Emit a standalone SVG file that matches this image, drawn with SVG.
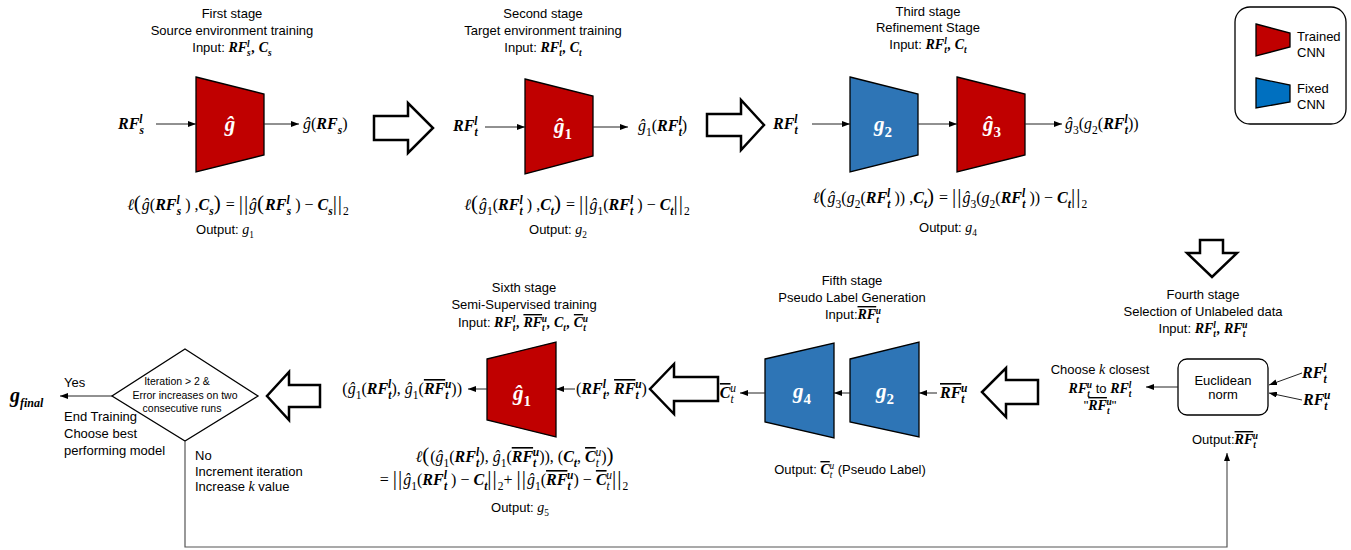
<svg xmlns="http://www.w3.org/2000/svg" width="1351" height="550" viewBox="0 0 1351 550">
<defs>
<style>
.t{font-family:"Liberation Sans",Arial,sans-serif;font-size:13px;fill:#000}
.sm{font-size:10.5px}
.mt{font-family:"Liberation Serif","DejaVu Serif",serif;font-size:16px;fill:#000}
.i{font-family:"Liberation Serif","DejaVu Serif",serif;font-style:italic}
.b{font-family:"Liberation Serif","DejaVu Serif",serif;font-style:italic;font-weight:bold}
.t .b,.t .i{font-size:14px}
.s{font-family:"Liberation Serif","DejaVu Serif",serif;font-style:italic;font-size:0.72em}
.sb{font-family:"Liberation Serif","DejaVu Serif",serif;font-style:italic;font-weight:bold;font-size:0.72em}
.su{font-family:"Liberation Serif","DejaVu Serif",serif;font-style:normal;font-size:0.72em}
.up{baseline-shift:0.5em}
.dn{baseline-shift:-0.4em}
.ov{text-decoration:overline}
.bar{font-size:21px;letter-spacing:1px}
.cn{font-family:"Liberation Serif","DejaVu Serif",serif;font-style:italic;font-weight:bold;font-size:21px;fill:#fff}
.red{fill:#C00000;stroke:#000;stroke-width:1.3}
.blue{fill:#2E75B6;stroke:#000;stroke-width:1.3}
.ln{stroke:#222;stroke-width:1;fill:none}
.lp{stroke:#555;stroke-width:1.2;fill:none}
.blk{fill:#fff;stroke:#000;stroke-width:2.5;stroke-linejoin:miter}
</style>
<marker id="ah" viewBox="0 0 8 6" refX="8" refY="3" markerWidth="8" markerHeight="6" markerUnits="userSpaceOnUse" orient="auto"><path d="M0,0 L8,3 L0,6 z" fill="#000"/></marker>
</defs>
<rect width="1351" height="550" fill="#fff"/>

<g id="stage1">
<text class="t" x="232" y="18" text-anchor="middle">First stage</text>
<text class="t" x="232" y="35" text-anchor="middle">Source environment training</text>
<text class="t" x="232" y="52" text-anchor="middle">Input: <tspan class="b">RF</tspan><tspan class="sb up">l</tspan><tspan class="sb dn" dx="-2.6">s</tspan><tspan class="b" dx="1">, C</tspan><tspan class="sb dn">s</tspan></text>
<path class="red" d="M196,77 L264,94 L264,155 L196,172 Z"/>
<text class="cn" x="230" y="131" text-anchor="middle">ĝ</text>
<text class="mt" x="118" y="129"><tspan class="b">RF</tspan><tspan class="sb up">l</tspan><tspan class="sb dn" dx="-3">s</tspan></text>
<text class="mt" x="303" y="129"><tspan class="i">ĝ</tspan>(<tspan class="b">RF</tspan><tspan class="sb dn">s</tspan>)</text>
<text class="mt" x="238" y="210" text-anchor="middle"><tspan class="i">ℓ</tspan><tspan class="bar">(</tspan><tspan class="i">ĝ</tspan>(<tspan class="b">RF</tspan><tspan class="sb up">l</tspan><tspan class="sb dn" dx="-3">s</tspan> ) ,<tspan class="b">C</tspan><tspan class="sb dn">s</tspan><tspan class="bar">)</tspan> = <tspan class="bar">||</tspan><tspan class="i">ĝ</tspan><tspan class="bar">(</tspan><tspan class="b">RF</tspan><tspan class="sb up">l</tspan><tspan class="sb dn" dx="-3">s</tspan> ) − <tspan class="b">C</tspan><tspan class="sb dn">s</tspan><tspan class="bar">||</tspan><tspan class="su dn">2</tspan></text>
<text class="t" x="225" y="234" text-anchor="middle">Output: <tspan class="i">g</tspan><tspan class="su dn">1</tspan></text>
</g>

<g id="stage2">
<text class="t" x="543" y="18" text-anchor="middle">Second stage</text>
<text class="t" x="543" y="35" text-anchor="middle">Target environment training</text>
<text class="t" x="543" y="52" text-anchor="middle">Input: <tspan class="b">RF</tspan><tspan class="sb up">l</tspan><tspan class="sb dn" dx="-2.6">t</tspan><tspan class="b" dx="1">, C</tspan><tspan class="sb dn">t</tspan></text>
<path class="red" d="M525,79 L593,96 L593,156 L525,174 Z"/>
<text class="cn" x="563" y="133" text-anchor="middle">ĝ<tspan font-size="15" font-style="normal" class="dn">1</tspan></text>
<text class="mt" x="453" y="131"><tspan class="b">RF</tspan><tspan class="sb up">l</tspan><tspan class="sb dn" dx="-3">t</tspan></text>
<text class="mt" x="638" y="131"><tspan class="i">ĝ</tspan><tspan class="su dn">1</tspan>(<tspan class="b">RF</tspan><tspan class="sb up">l</tspan><tspan class="sb dn" dx="-3">t</tspan>)</text>
<text class="mt" x="577" y="210" text-anchor="middle"><tspan class="i">ℓ</tspan><tspan class="bar">(</tspan><tspan class="i">ĝ</tspan><tspan class="su dn">1</tspan>(<tspan class="b">RF</tspan><tspan class="sb up">l</tspan><tspan class="sb dn" dx="-3">t</tspan> ) ,<tspan class="b">C</tspan><tspan class="sb dn">t</tspan><tspan class="bar">)</tspan> = <tspan class="bar">||</tspan><tspan class="i">ĝ</tspan><tspan class="su dn">1</tspan>(<tspan class="b">RF</tspan><tspan class="sb up">l</tspan><tspan class="sb dn" dx="-3">t</tspan> ) − <tspan class="b">C</tspan><tspan class="sb dn">t</tspan><tspan class="bar">||</tspan><tspan class="su dn">2</tspan></text>
<text class="t" x="558" y="234" text-anchor="middle">Output: <tspan class="i">g</tspan><tspan class="su dn">2</tspan></text>
</g>

<g id="stage3">
<text class="t" x="928" y="16" text-anchor="middle">Third stage</text>
<text class="t" x="928" y="32" text-anchor="middle">Refinement Stage</text>
<text class="t" x="928" y="49" text-anchor="middle">Input: <tspan class="b">RF</tspan><tspan class="sb up">l</tspan><tspan class="sb dn" dx="-2.6">t</tspan><tspan class="b" dx="1">, C</tspan><tspan class="sb dn">t</tspan></text>
<path class="blue" d="M850,77 L918,94 L918,155 L850,172 Z"/>
<path class="red" d="M957,77 L1025,94 L1025,155 L957,172 Z"/>
<text class="cn" x="883" y="131" text-anchor="middle">g<tspan font-size="15" font-style="normal" class="dn">2</tspan></text>
<text class="cn" x="992" y="131" text-anchor="middle">ĝ<tspan font-size="15" font-style="normal" class="dn">3</tspan></text>
<text class="mt" x="773" y="129"><tspan class="b">RF</tspan><tspan class="sb up">l</tspan><tspan class="sb dn" dx="-3">t</tspan></text>
<text class="mt" x="1065" y="129"><tspan class="i">ĝ</tspan><tspan class="su dn">3</tspan>(<tspan class="i">g</tspan><tspan class="su dn">2</tspan>(<tspan class="b">RF</tspan><tspan class="sb up">l</tspan><tspan class="sb dn" dx="-3">t</tspan>))</text>
<text class="mt" x="950" y="203" text-anchor="middle"><tspan class="i">ℓ</tspan><tspan class="bar">(</tspan><tspan class="i">ĝ</tspan><tspan class="su dn">3</tspan>(<tspan class="i">g</tspan><tspan class="su dn">2</tspan>(<tspan class="b">RF</tspan><tspan class="sb up">l</tspan><tspan class="sb dn" dx="-3">t</tspan> )) ,<tspan class="b">C</tspan><tspan class="sb dn">t</tspan><tspan class="bar">)</tspan> = <tspan class="bar">||</tspan><tspan class="i">ĝ</tspan><tspan class="su dn">3</tspan>(<tspan class="i">g</tspan><tspan class="su dn">2</tspan>(<tspan class="b">RF</tspan><tspan class="sb up">l</tspan><tspan class="sb dn" dx="-3">t</tspan> )) − <tspan class="b">C</tspan><tspan class="sb dn">t</tspan><tspan class="bar">||</tspan><tspan class="su dn">2</tspan></text>
<text class="t" x="948" y="232" text-anchor="middle">Output: <tspan class="i">g</tspan><tspan class="su dn">4</tspan></text>
</g>

<g id="legend">
<rect x="1235" y="7" width="111" height="117" rx="15" fill="#fff" stroke="#000" stroke-width="1.3"/>
<path class="red" d="M1256,24 L1290,33 L1290,47 L1256,56 Z"/>
<path d="M1256,78 L1290,85 L1290,102 L1256,108 Z" fill="#0070C0" stroke="#000" stroke-width="1.3"/>
<text class="t" x="1297" y="41" font-size="11">Trained</text>
<text class="t" x="1297" y="57" font-size="11">CNN</text>
<text class="t" x="1297" y="93" font-size="11">Fixed</text>
<text class="t" x="1297" y="109" font-size="11">CNN</text>
</g>

<g id="stage4">
<text class="t" x="1203" y="299" text-anchor="middle">Fourth stage</text>
<text class="t" x="1203" y="316" text-anchor="middle">Selection of Unlabeled data</text>
<text class="t" x="1203" y="333" text-anchor="middle">Input: <tspan class="b">RF</tspan><tspan class="sb up">l</tspan><tspan class="sb dn" dx="-2.6">t</tspan><tspan class="b" dx="1">, RF</tspan><tspan class="sb dn">t</tspan><tspan class="sb up" dx="-3">u</tspan></text>
<rect x="1178" y="359" width="90" height="56" rx="9" fill="#fff" stroke="#000" stroke-width="1.3"/>
<text class="t" x="1223" y="385" font-size="10" text-anchor="middle">Euclidean</text>
<text class="t" x="1223" y="399" font-size="10" text-anchor="middle">norm</text>
<text class="mt" x="1302" y="378"><tspan class="b">RF</tspan><tspan class="sb up">l</tspan><tspan class="sb dn" dx="-3">t</tspan></text>
<text class="mt" x="1303" y="405"><tspan class="b">RF</tspan><tspan class="sb dn">t</tspan><tspan class="sb up" dx="-3.5">u</tspan></text>
<text class="t" x="1100" y="374" text-anchor="middle">Choose <tspan class="i">k</tspan> closest</text>
<text class="t" x="1100" y="393" text-anchor="middle"><tspan class="b">RF</tspan><tspan class="sb dn">t</tspan><tspan class="sb up" dx="-3">u</tspan> to <tspan class="b">RF</tspan><tspan class="sb up">l</tspan><tspan class="sb dn" dx="-2.6">t</tspan></text>
<text class="t" x="1100" y="410" text-anchor="middle">"<tspan class="b ov">RF</tspan><tspan class="sb dn">t</tspan><tspan class="sb up" dx="-3">u</tspan>"</text>
<text class="t" x="1225" y="444" text-anchor="middle">Output:<tspan class="b ov">RF</tspan><tspan class="sb dn">t</tspan><tspan class="sb up" dx="-3">u</tspan></text>
</g>

<g id="stage5">
<text class="t" x="852" y="285" text-anchor="middle">Fifth stage</text>
<text class="t" x="852" y="302" text-anchor="middle">Pseudo Label Generation</text>
<text class="t" x="853" y="319" text-anchor="middle">Input:<tspan class="b ov">RF</tspan><tspan class="sb dn">t</tspan><tspan class="sb up" dx="-3">u</tspan></text>
<path class="blue" d="M765,359 L834,343 L834,438 L765,422 Z"/>
<path class="blue" d="M850,359 L919,342 L919,437 L850,422 Z"/>
<text class="cn" x="802" y="398" text-anchor="middle">g<tspan font-size="15" font-style="normal" class="dn">4</tspan></text>
<text class="cn" x="885" y="398" text-anchor="middle">g<tspan font-size="15" font-style="normal" class="dn">2</tspan></text>
<text class="mt" x="940" y="398"><tspan class="b ov">RF</tspan><tspan class="sb dn">t</tspan><tspan class="sb up" dx="-3.5">u</tspan></text>
<text class="mt" x="736" y="398" text-anchor="end"><tspan class="b ov">C</tspan><tspan class="s dn">t</tspan><tspan class="s up" dx="-3.5">u</tspan></text>
<text class="t" x="850" y="474" text-anchor="middle">Output: <tspan class="b ov">C</tspan><tspan class="s dn">t</tspan><tspan class="s up" dx="-3">u</tspan> (Pseudo Label)</text>
</g>

<g id="stage6">
<text class="t" x="524" y="292" text-anchor="middle">Sixth stage</text>
<text class="t" x="524" y="309" text-anchor="middle">Semi-Supervised training</text>
<text class="t" x="523" y="327" text-anchor="middle">Input: <tspan class="b">RF</tspan><tspan class="sb up">l</tspan><tspan class="sb dn" dx="-2.6">t</tspan><tspan class="b" dx="1">, </tspan><tspan class="b ov">RF</tspan><tspan class="sb dn">t</tspan><tspan class="sb up" dx="-3">u</tspan><tspan class="b">, C</tspan><tspan class="sb dn">t</tspan><tspan class="b" dx="1">, </tspan><tspan class="b ov">C</tspan><tspan class="sb dn">t</tspan><tspan class="sb up" dx="-3">u</tspan></text>
<path class="red" d="M487,359 L556,342 L556,437 L487,420 Z"/>
<text class="cn" x="522" y="400" text-anchor="middle">ĝ<tspan font-size="15" font-style="normal" class="dn">1</tspan></text>
<text class="mt" x="576" y="394">(<tspan class="b">RF</tspan><tspan class="sb up">l</tspan><tspan class="sb dn" dx="-3">t</tspan>, <tspan class="b ov">RF</tspan><tspan class="sb dn">t</tspan><tspan class="sb up" dx="-3.5">u</tspan>)</text>
<text class="mt" x="462" y="394" text-anchor="end">(<tspan class="i">ĝ</tspan><tspan class="su dn">1</tspan>(<tspan class="b">RF</tspan><tspan class="sb up">l</tspan><tspan class="sb dn" dx="-3">t</tspan>), <tspan class="i">ĝ</tspan><tspan class="su dn">1</tspan>(<tspan class="b ov">RF</tspan><tspan class="sb dn">t</tspan><tspan class="sb up" dx="-3.5">u</tspan>))</text>
<text class="mt" x="515" y="462" text-anchor="middle"><tspan class="i">ℓ</tspan><tspan class="bar">(</tspan>(<tspan class="i">ĝ</tspan><tspan class="su dn">1</tspan>(<tspan class="b">RF</tspan><tspan class="sb up">l</tspan><tspan class="sb dn" dx="-3">t</tspan>), <tspan class="i">ĝ</tspan><tspan class="su dn">1</tspan>(<tspan class="b ov">RF</tspan><tspan class="sb dn">t</tspan><tspan class="sb up" dx="-3.5">u</tspan>)), (<tspan class="b">C</tspan><tspan class="sb dn">t</tspan>, <tspan class="b ov">C</tspan><tspan class="s dn">t</tspan><tspan class="s up" dx="-3.5">u</tspan>)<tspan class="bar">)</tspan></text>
<text class="mt" x="504" y="485" text-anchor="middle">= <tspan class="bar">||</tspan><tspan class="i">ĝ</tspan><tspan class="su dn">1</tspan>(<tspan class="b">RF</tspan><tspan class="sb up">l</tspan><tspan class="sb dn" dx="-3">t</tspan> ) − <tspan class="b">C</tspan><tspan class="sb dn">t</tspan><tspan class="bar">||</tspan><tspan class="su dn">2</tspan>+ <tspan class="bar">||</tspan><tspan class="i">ĝ</tspan><tspan class="su dn">1</tspan>(<tspan class="b ov">RF</tspan><tspan class="sb dn">t</tspan><tspan class="sb up" dx="-3.5">u</tspan>) − <tspan class="b ov">C</tspan><tspan class="s dn">t</tspan><tspan class="s up" dx="-3.5">u</tspan><tspan class="bar">||</tspan><tspan class="su dn">2</tspan></text>
<text class="t" x="520" y="512" text-anchor="middle">Output: <tspan class="i">g</tspan><tspan class="su dn">5</tspan></text>
</g>

<g id="decision">
<path d="M185,349 L258,396 L185,441 L112,396 Z" fill="#fff" stroke="#000" stroke-width="1.3"/>
<text class="t sm" x="177" y="385" text-anchor="middle">Iteration &gt; 2 &amp;</text>
<text class="t sm" x="185" y="399" text-anchor="middle">Error increases on two</text>
<text class="t sm" x="182" y="412" text-anchor="middle">consecutive runs</text>
<text x="10" y="402" font-family="Liberation Serif, DejaVu Serif, serif" font-style="italic" font-weight="bold" font-size="20">g<tspan font-size="12" class="dn">final</tspan></text>
<text class="t" x="64" y="387">Yes</text>
<text class="t" x="64" y="421">End Training</text>
<text class="t" x="64" y="438">Choose best</text>
<text class="t" x="64" y="455">performing model</text>
<text class="t" x="195" y="460">No</text>
<text class="t" x="195" y="476">Increment iteration</text>
<text class="t" x="195" y="491">Increase <tspan class="i">k</tspan> value</text>
</g>

<g id="connectors">
<line class="ln" x1="156" y1="124" x2="196" y2="124" marker-end="url(#ah)"/>
<line class="ln" x1="264" y1="124" x2="299" y2="124" marker-end="url(#ah)"/>
<line class="ln" x1="485" y1="127" x2="525" y2="127" marker-end="url(#ah)"/>
<line class="ln" x1="593" y1="127" x2="628" y2="127" marker-end="url(#ah)"/>
<line class="ln" x1="812" y1="124" x2="850" y2="124" marker-end="url(#ah)"/>
<line class="ln" x1="918" y1="124" x2="957" y2="124" marker-end="url(#ah)"/>
<line class="ln" x1="1025" y1="124" x2="1062" y2="124" marker-end="url(#ah)"/>
<line class="ln" x1="1302" y1="373" x2="1269" y2="385" marker-end="url(#ah)"/>
<line class="ln" x1="1302" y1="400" x2="1269" y2="393" marker-end="url(#ah)"/>
<line class="ln" x1="1178" y1="387" x2="1146" y2="387" marker-end="url(#ah)"/>
<line class="ln" x1="937" y1="393" x2="919" y2="393" marker-end="url(#ah)"/>
<line class="ln" x1="850" y1="393" x2="834" y2="393" marker-end="url(#ah)"/>
<line class="ln" x1="765" y1="393" x2="740" y2="393" marker-end="url(#ah)"/>
<line class="ln" x1="575" y1="389" x2="556" y2="389" marker-end="url(#ah)"/>
<line class="ln" x1="487" y1="389" x2="468" y2="389" marker-end="url(#ah)"/>
<line class="ln" x1="112" y1="396" x2="60" y2="396" marker-end="url(#ah)"/>
<polyline class="lp" points="185,441 185,547 1227,547 1227,453" marker-end="url(#ah)"/>
<path class="blk" d="M374,116 L408,116 L408,103 L433,128 L408,153 L408,140 L374,140 Z"/>
<path class="blk" d="M707,114 L741,114 L741,100 L764,125 L741,150 L741,136 L707,136 Z"/>
<path class="blk" d="M1200,240 L1223,240 L1223,253 L1237,253 L1212,277 L1187,253 L1200,253 Z"/>
<path class="blk" d="M1038,380 L1006,380 L1006,368 L982,392 L1006,417 L1006,404 L1038,404 Z"/>
<path class="blk" d="M718,377 L674,377 L674,364 L650,389 L674,414 L674,401 L718,401 Z"/>
<path class="blk" d="M320,385 L289,385 L289,372 L267,396 L289,420 L289,407 L320,407 Z"/>
</g>
</svg>
